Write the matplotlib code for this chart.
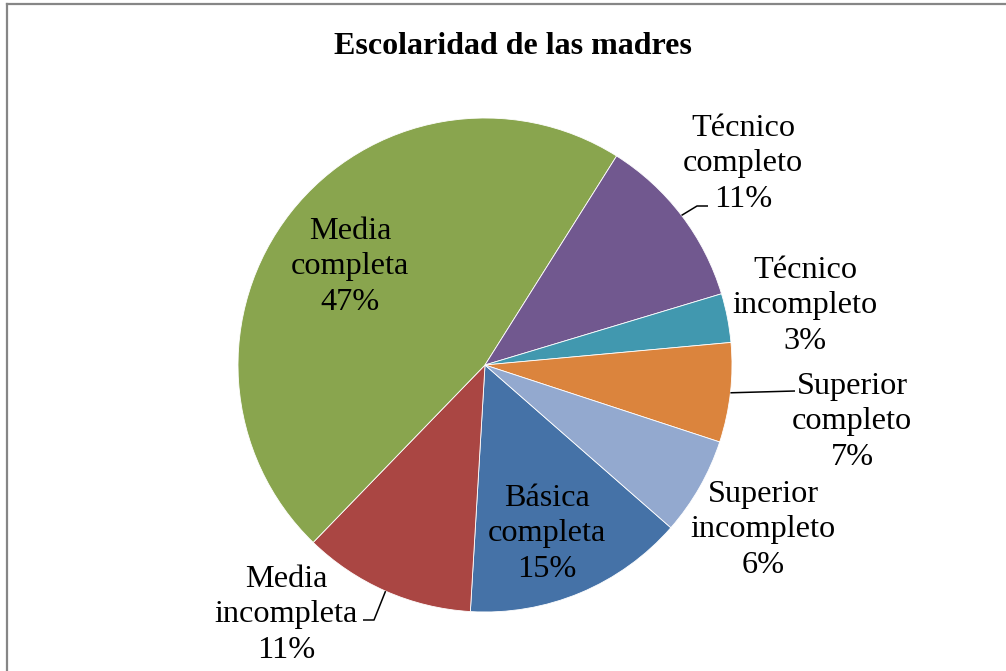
import numpy as np
import matplotlib
matplotlib.use("Agg")
import matplotlib.pyplot as plt

# ---- data ----
title = "Escolaridad de las madres"
categories = ["Básica completa", "Media incompleta", "Media completa",
              "Técnico completo", "Técnico incompleto",
              "Superior completo", "Superior incompleto"]
percentages = [14.5, 11.3, 46.7, 11.4, 3.2, 6.5, 6.4]
colors = ["#4572A7", "#AA4643", "#89A54E", "#71588F", "#4198AF", "#DB843D", "#93A9CF"]

W, H = 1006, 671
fig = plt.figure(figsize=(W / 100, H / 100), dpi=100)
ax = fig.add_axes([0, 0, 1, 1])

def py(y):  # pixel-from-top -> data y (up)
    return H - y

cx, cy, R = 485, py(365), 247
wedges, _ = ax.pie(percentages, colors=colors, startangle=-41.2, counterclock=False,
                   center=(cx, cy), radius=R,
                   wedgeprops=dict(edgecolor="white", linewidth=0.6))
ax.set_xlim(0, W)
ax.set_ylim(0, H)
ax.set_aspect("equal")
ax.axis("off")

font = "Liberation Serif"
fs = 23.2

def label_text(cat, v):
    return cat.replace(" ", "\n") + "\n" + f"{int(v + 0.5)}%"

# label anchors (centre x, last-line baseline y in pixels from top)
anchors = [(547, 577), (286, 658), (350, 310), (743, 207),
           (805, 349), (852, 465), (763, 573)]
for cat, v, (x, y) in zip(categories, percentages, anchors):
    ax.text(x, py(y), label_text(cat, v), ha="center", va="baseline",
            family=font, fontsize=fs, linespacing=1.3, color="black")

# leader lines: start at mid-arc of wedge, then to label
def mid_point(w):
    a = np.deg2rad((w.theta1 + w.theta2) / 2)
    return cx + R * np.cos(a), cy + R * np.sin(a)

leaders = {3: [(697, 206), (708, 206)],
           5: [(795, 391)],
           1: [(374, 620), (363, 620)]}
for i, pts in leaders.items():
    x0, y0 = mid_point(wedges[i])
    xs = [x0] + [p[0] for p in pts]
    ys = [y0] + [py(p[1]) for p in pts]
    ax.plot(xs, ys, color="black", linewidth=1.1, solid_capstyle="butt")

# title
ax.text(513, py(54), title, ha="center", va="baseline", family=font,
        fontsize=23, fontweight="bold")

# chart border (left and top visible)
ax.plot([7, 7], [-5, py(4)], color="#868686", linewidth=1.6)
ax.plot([7, W + 5], [py(4), py(4)], color="#868686", linewidth=1.6)

fig.savefig("out.png", dpi=100, facecolor="white")
